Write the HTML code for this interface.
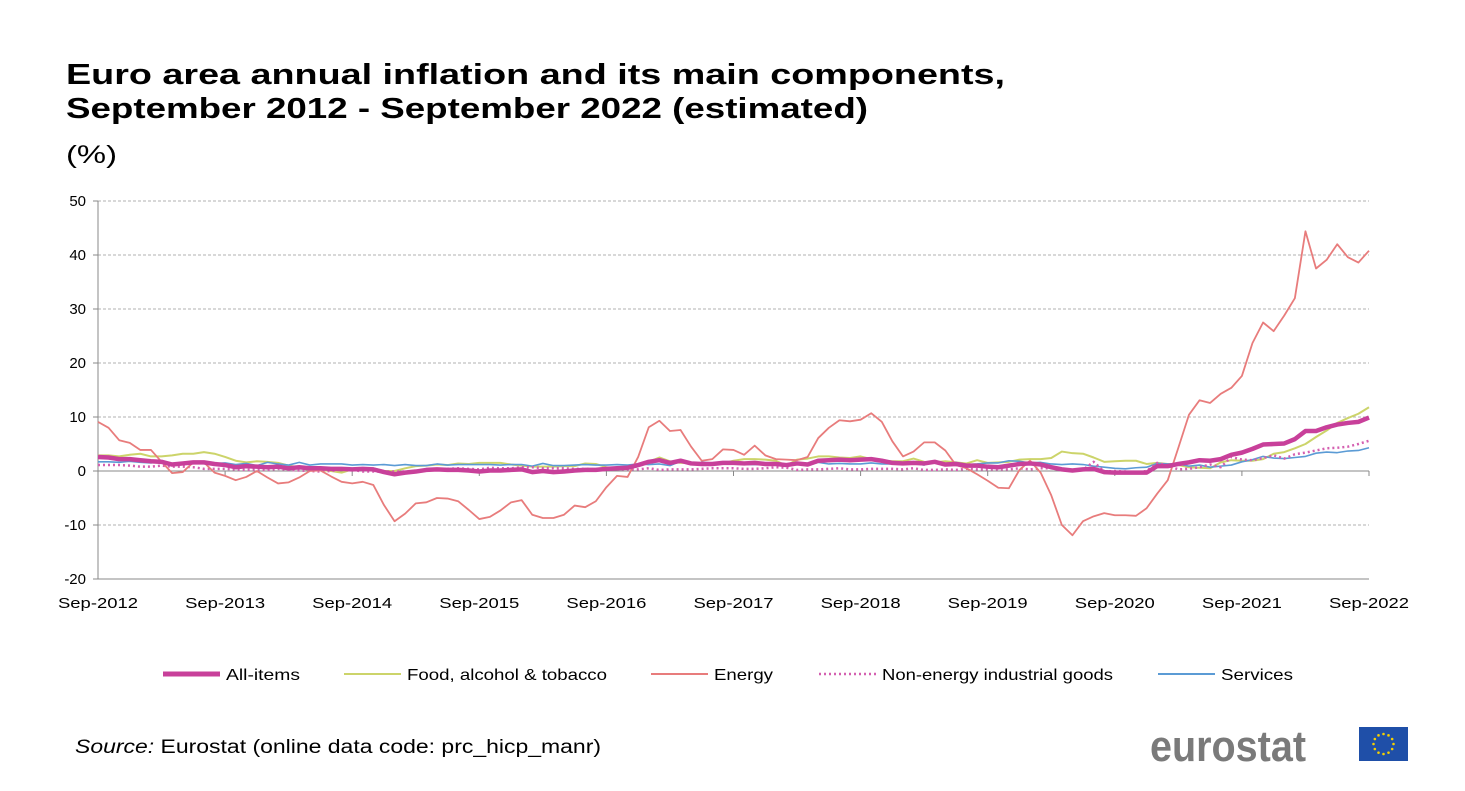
<!DOCTYPE html>
<html><head><meta charset="utf-8"><style>
body{margin:0;background:#fff;width:1465px;height:786px;overflow:hidden;font-family:"Liberation Sans",Arial,sans-serif}
</style></head><body>
<svg width="1465" height="786" xmlns="http://www.w3.org/2000/svg" font-family="Liberation Sans, Arial, sans-serif">
<text x="66" y="84" font-size="29" font-weight="bold" fill="#000" textLength="939" lengthAdjust="spacingAndGlyphs">Euro area annual inflation and its main components,</text>
<text x="66" y="118" font-size="29" font-weight="bold" fill="#000" textLength="802" lengthAdjust="spacingAndGlyphs">September 2012 - September 2022 (estimated)</text>
<text x="66" y="163" font-size="25" fill="#000" textLength="51" lengthAdjust="spacingAndGlyphs">(%)</text>
<g id="grid"></g><g id="axes"></g><g id="series"></g>
<g font-size="16" fill="#000">
<line x1="163" y1="674" x2="220" y2="674" stroke="#c8409a" stroke-width="5"/><text x="226" y="680" textLength="74" lengthAdjust="spacingAndGlyphs">All-items</text>
<line x1="344" y1="674" x2="401" y2="674" stroke="#ccd46a" stroke-width="2"/><text x="407" y="680" textLength="200" lengthAdjust="spacingAndGlyphs">Food, alcohol &amp; tobacco</text>
<line x1="651" y1="674" x2="708" y2="674" stroke="#e87c7c" stroke-width="2"/><text x="714" y="680" textLength="59" lengthAdjust="spacingAndGlyphs">Energy</text>
<line x1="819" y1="674" x2="876" y2="674" stroke="#d45fb0" stroke-width="2.5" stroke-dasharray="2,3"/><text x="882" y="680" textLength="231" lengthAdjust="spacingAndGlyphs">Non-energy industrial goods</text>
<line x1="1158" y1="674" x2="1215" y2="674" stroke="#5b9bd5" stroke-width="2"/><text x="1221" y="680" textLength="72" lengthAdjust="spacingAndGlyphs">Services</text>
</g>
<text x="75" y="753" font-size="19" fill="#000" textLength="526" lengthAdjust="spacingAndGlyphs"><tspan font-style="italic">Source:</tspan> Eurostat (online data code: prc_hicp_manr)</text>
<text x="1150" y="761" font-size="44" font-weight="bold" fill="#7a7a7a" textLength="156" lengthAdjust="spacingAndGlyphs">eurostat</text>
<g><rect x="1359" y="727" width="49" height="34" fill="#1f4fa8"/><g id="stars"></g></g>
</svg>
<script>
const yTicks=[50,40,30,20,10,0,-10,-20];
const xLabels=["Sep-2012","Sep-2013","Sep-2014","Sep-2015","Sep-2016","Sep-2017","Sep-2018","Sep-2019","Sep-2020","Sep-2021","Sep-2022"];
const energy=[9.1,8.0,5.7,5.2,3.9,3.9,1.7,-0.4,-0.2,1.6,1.6,-0.3,-0.9,-1.7,-1.1,0.0,-1.2,-2.3,-2.1,-1.2,0.0,0.1,-1.0,-2.0,-2.3,-2.0,-2.6,-6.3,-9.3,-7.9,-6.0,-5.8,-5.0,-5.1,-5.6,-7.2,-8.9,-8.5,-7.3,-5.8,-5.4,-8.1,-8.7,-8.7,-8.1,-6.4,-6.7,-5.6,-3.0,-0.9,-1.1,2.6,8.1,9.3,7.4,7.6,4.5,1.9,2.2,4.0,3.9,3.0,4.7,2.9,2.2,2.1,2.0,2.6,6.1,8.0,9.4,9.2,9.5,10.7,9.1,5.5,2.7,3.6,5.3,5.3,3.8,1.1,0.5,-0.6,-1.8,-3.1,-3.2,0.2,1.9,-0.3,-4.5,-10.0,-11.9,-9.3,-8.4,-7.8,-8.2,-8.2,-8.3,-6.9,-4.2,-1.7,4.3,10.4,13.1,12.6,14.3,15.4,17.6,23.7,27.5,25.9,28.8,32.0,44.4,37.5,39.1,42.0,39.6,38.6,40.8];
const allItems=[2.6,2.5,2.2,2.2,2.0,1.8,1.7,1.2,1.4,1.6,1.6,1.3,1.1,0.7,0.9,0.8,0.7,0.8,0.5,0.7,0.5,0.5,0.4,0.4,0.3,0.4,0.3,-0.2,-0.6,-0.3,-0.1,0.2,0.3,0.2,0.2,0.1,-0.1,0.1,0.1,0.2,0.3,-0.2,0.0,-0.2,-0.1,0.1,0.2,0.2,0.4,0.5,0.6,1.1,1.7,2.0,1.5,1.9,1.4,1.3,1.3,1.5,1.5,1.4,1.5,1.3,1.3,1.1,1.4,1.2,1.9,2.0,2.1,2.0,2.1,2.2,1.9,1.5,1.4,1.5,1.4,1.7,1.2,1.3,1.0,1.0,0.8,0.7,1.0,1.3,1.4,1.2,0.7,0.3,0.1,0.3,0.4,-0.2,-0.3,-0.3,-0.3,-0.3,0.9,0.9,1.3,1.6,2.0,1.9,2.2,3.0,3.4,4.1,4.9,5.0,5.1,5.9,7.4,7.4,8.1,8.6,8.9,9.1,9.9];
const food=[2.9,2.9,2.7,3.0,3.2,2.7,2.7,2.9,3.2,3.2,3.5,3.2,2.6,1.9,1.6,1.8,1.7,1.5,1.0,0.7,0.1,0.2,0.0,-0.3,0.3,0.5,0.5,0.0,0.0,0.5,0.9,1.0,1.2,1.1,1.4,1.3,1.5,1.5,1.5,1.2,1.0,0.8,0.8,0.8,0.9,0.9,1.4,1.3,0.7,0.5,0.7,1.2,1.7,2.5,1.8,1.5,1.5,1.3,1.4,1.4,1.9,2.2,2.2,2.1,1.9,1.0,2.1,2.3,2.7,2.7,2.5,2.4,2.7,2.2,1.9,1.8,1.8,2.3,1.7,1.6,1.8,1.6,1.4,2.0,1.5,1.6,1.7,2.1,2.2,2.2,2.4,3.6,3.3,3.2,2.5,1.7,1.8,1.9,1.9,1.3,1.5,1.3,1.1,0.7,0.6,0.5,1.6,2.0,1.9,1.9,2.2,3.2,3.5,4.2,5.0,6.3,7.5,8.9,9.8,10.6,11.8];
const neig=[1.1,1.1,1.1,1.0,0.8,0.8,1.0,0.8,0.8,0.7,0.4,0.4,0.4,0.3,0.2,0.3,0.2,0.4,0.2,0.1,0.0,-0.1,0.0,0.3,0.2,-0.1,-0.1,-0.1,-0.1,-0.1,-0.1,0.1,0.3,0.4,0.5,0.4,0.3,0.6,0.5,0.5,0.7,0.7,0.5,0.5,0.5,0.4,0.4,0.3,0.3,0.3,0.3,0.3,0.5,0.2,0.3,0.3,0.3,0.4,0.5,0.5,0.5,0.4,0.4,0.5,0.7,0.6,0.2,0.3,0.3,0.4,0.5,0.3,0.3,0.4,0.4,0.4,0.3,0.5,0.2,0.2,0.3,0.2,0.4,0.3,0.3,0.3,0.3,0.5,0.3,0.5,0.5,0.3,0.2,0.2,1.7,-0.1,0.0,-0.1,-0.3,0.0,1.5,1.0,0.3,0.4,0.7,1.2,0.7,2.6,2.1,2.0,2.4,2.9,2.3,3.1,3.4,3.8,4.2,4.3,4.5,5.0,5.6];
const services=[1.7,1.7,1.6,1.8,1.6,1.5,1.8,1.1,1.5,1.4,1.4,1.4,1.5,1.2,1.4,1.0,1.6,1.3,1.1,1.6,1.1,1.3,1.3,1.3,1.1,1.2,1.1,1.2,1.0,1.2,1.0,1.0,1.3,1.1,1.2,1.2,1.2,1.2,1.1,1.2,1.2,0.9,1.4,1.0,1.0,1.1,1.2,1.1,1.1,1.2,1.1,1.3,1.2,1.3,1.0,1.8,1.3,1.6,1.5,1.6,1.5,1.2,1.2,1.2,1.2,1.3,1.5,1.0,1.6,1.3,1.4,1.3,1.3,1.5,1.3,1.3,1.2,1.4,1.1,1.9,1.0,1.6,1.2,1.3,1.5,1.5,1.9,1.8,1.5,1.6,1.3,1.2,1.3,1.2,0.9,0.7,0.5,0.4,0.6,0.7,1.4,1.3,1.3,0.9,1.1,0.7,0.9,1.1,1.7,2.1,2.7,2.4,2.3,2.5,2.7,3.3,3.5,3.4,3.7,3.8,4.3];
const NS="http://www.w3.org/2000/svg";
const X0=98,X1=1369,Y50=201,Ym20=579;
const x=i=>X0+(X1-X0)*i/120;
const y=v=>Y50+(50-v)*(Ym20-Y50)/70;
function mk(t,a,p){const e=document.createElementNS(NS,t);for(const k in a)e.setAttribute(k,a[k]);p.appendChild(e);return e;}
const grid=document.getElementById('grid'),axes=document.getElementById('axes'),ser=document.getElementById('series');
yTicks.forEach(v=>{
 if(v!==0&&v!==-20){const l=mk('line',{x1:X0,x2:X1,y1:y(v),y2:y(v),stroke:'#b0b0b0','stroke-dasharray':'3,2'},grid);
 
 }
 const t=mk('text',{x:86,y:y(v)+5,'text-anchor':'end','font-size':'15',fill:'#000'},axes);t.textContent=v;
 
 
 mk('line',{x1:X0-5,x2:X0,y1:y(v),y2:y(v),stroke:'#888'},axes);
});
const ya=mk('line',{x1:X0,x2:X0,y1:Y50,y2:Ym20,stroke:'#888'},axes);


const xa=mk('line',{x1:X0,x2:X1,y1:y(0),y2:y(0),stroke:'#888'},axes);


mk('line',{x1:X0,x2:X1,y1:Ym20,y2:Ym20,stroke:'#888'},axes);
xLabels.forEach((s,k)=>{const xx=x(k*12);
 mk('line',{x1:xx,x2:xx,y1:y(0),y2:y(0)+5,stroke:'#888'},axes);
 const t=mk('text',{x:xx,y:608,'text-anchor':'middle','font-size':'15',fill:'#000',textLength:'80',lengthAdjust:'spacingAndGlyphs'},axes);t.textContent=s;
 
 
});
function line(d,col,w,name,dash){const p=mk('polyline',{points:d.map((v,i)=>x(i)+','+y(v)).join(' '),fill:'none',stroke:col,'stroke-width':w,'stroke-linejoin':'round'},ser);
 if(dash)p.setAttribute('stroke-dasharray',dash);
 
 }
line(food,'#ccd46a',2,'series-food');
line(services,'#5b9bd5',1.6,'series-services');
line(neig,'#d45fb0',2.5,'series-neig','2,3');
line(energy,'#e87c7c',1.8,'series-energy');
line(allItems,'#c8409a',4.5,'series-all-items');
const st=document.getElementById('stars');
for(let k=0;k<12;k++){const a=k*Math.PI/6;mk('circle',{cx:1383.5+10*Math.cos(a),cy:744+10*Math.sin(a),r:1.3,fill:'#f5d000'},st);}
</script>
</body></html>
